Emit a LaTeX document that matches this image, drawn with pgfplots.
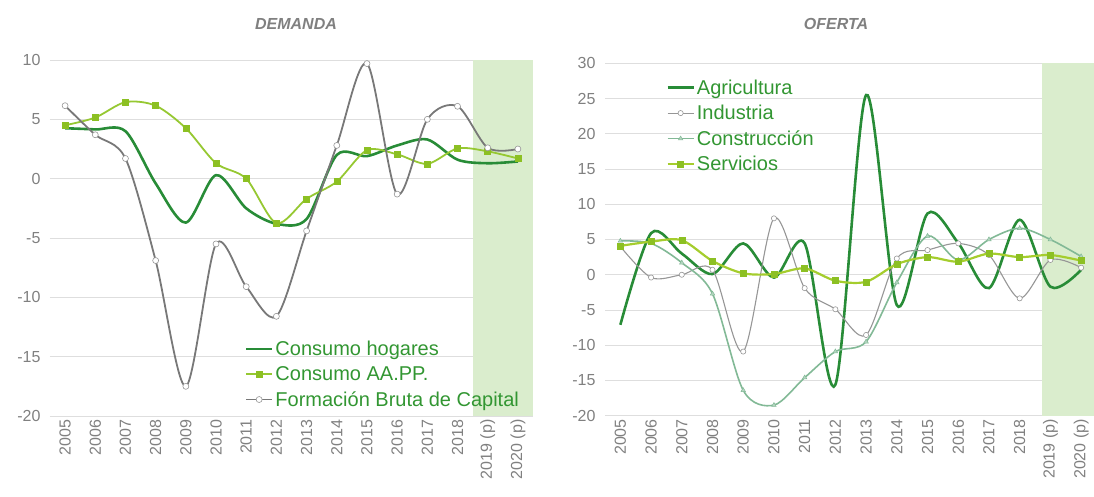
\documentclass[border=0pt]{standalone}
\usepackage{pgfplots}
\pgfplotsset{compat=1.18}
\usepackage{pgfplotstable}
\usepackage{fontspec}
\setmainfont{Liberation Sans}
\definecolor{dkgreen}{RGB}{40,140,55}
\definecolor{ltgreen}{RGB}{150,200,50}
\definecolor{ltgreenmk}{RGB}{140,192,35}
\definecolor{servline}{RGB}{165,205,45}
\definecolor{fbcgray}{RGB}{120,120,120}
\definecolor{indgray}{RGB}{150,150,150}
\definecolor{constr}{RGB}{130,185,150}
\definecolor{shade}{RGB}{218,237,205}
\definecolor{legtext}{RGB}{50,150,50}
\definecolor{gridc}{RGB}{222,222,222}
\definecolor{tickc}{RGB}{128,128,128}

\pgfplotstableread{
x hog aapp fbc
0 4.25 4.5 6.15
1 4.15 5.15 3.7
2 4.0 6.45 1.7
3 -0.4 6.15 -6.9
4 -3.7 4.25 -17.5
5 0.3 1.3 -5.5
6 -2.5 0.0 -9.1
7 -3.8 -3.75 -11.6
8 -3.4 -1.7 -4.4
9 2.0 -0.25 2.8
10 1.9 2.4 9.7
11 2.8 2.05 -1.3
12 3.3 1.25 5.0
13 1.6 2.55 6.1
14 1.3 2.3 2.6
15 1.45 1.7 2.5
}\demanda

\pgfplotstableread{
x agr ind con ser
0 -7.1 4.0 4.8 4.1
1 5.9 -0.4 4.45 4.7
2 3.0 0.0 1.7 4.9
3 0.1 0.7 -2.7 1.95
4 4.45 -10.9 -16.4 0.2
5 -0.4 8.0 -18.5 0.1
6 4.45 -1.9 -14.6 0.9
7 -15.6 -4.9 -10.9 -0.85
8 25.5 -8.55 -9.5 -1.0
9 -4.3 2.3 -1.1 1.5
10 8.7 3.5 5.5 2.5
11 4.5 4.45 2.1 1.85
12 -1.9 2.8 5.0 3.0
13 7.8 -3.35 6.6 2.5
14 -1.7 2.1 5.0 2.8
15 0.7 1.0 2.6 2.0
}\oferta

\pgfplotsset{
  mybase/.style={
    scale only axis,
    axis line style={draw=none},
    tick style={draw=none},
    ymajorgrids,
    grid style={gridc, line width=0.8pt},
    xtick={0,...,15},
    xticklabels={2005,2006,2007,2008,2009,2010,2011,2012,2013,2014,2015,2016,2017,2018,2019 (p),2020 (p)},
    xticklabel style={rotate=90, anchor=east, font=\fontsize{16}{18}\selectfont, text=tickc},
    yticklabel style={font=\fontsize{16}{18}\selectfont, text=tickc},
    /pgf/number format/assume math mode=true,
    legend cell align=left,
    legend image code/.code={\draw[mark repeat=2,mark phase=2,#1] plot coordinates {(0pt,0pt) (13pt,0pt) (26pt,0pt)};},
    legend style={draw=none, fill=none, font=\fontsize{20}{22}\selectfont, text=legtext, inner sep=0pt, row sep=5.5pt},
  }
}

\begin{document}
\begin{tikzpicture}[x=1pt,y=1pt]
\useasboundingbox (0,0) rectangle (1094,496);

\node[font=\fontsize{16}{18}\selectfont\bfseries\itshape, text=tickc] at (296,472) {DEMANDA};
\node[font=\fontsize{16}{18}\selectfont\bfseries\itshape, text=tickc] at (836,472) {OFERTA};

\begin{axis}[mybase,
  at={(50pt,80pt)}, anchor=south west,
  width=483pt, height=356pt,
  xmin=-0.5, xmax=15.5, ymin=-20, ymax=10,
  ytick={-20,-15,...,10},
  yticklabel style={xshift=-6pt},
  legend style={at={(0.403,0.217)}, anchor=north west},
]
\addplot[fill=shade, draw=none, forget plot] coordinates {(13.5,-20) (15.5,-20) (15.5,10) (13.5,10)} -- cycle;
\addplot[dkgreen, line width=2.6pt, smooth, no markers] table[x=x,y=hog] {\demanda};
\addlegendentry{Consumo hogares}
\addplot[ltgreen, line width=1.8pt, smooth, mark=square*, mark size=3pt, mark options={fill=ltgreenmk, draw=ltgreenmk, line width=0.5pt}] table[x=x,y=aapp] {\demanda};
\addlegendentry{Consumo AA.PP.}
\addplot[fbcgray, line width=1.8pt, smooth, mark=*, mark size=3pt, mark options={fill=white, draw=indgray, line width=0.6pt}] table[x=x,y=fbc] {\demanda};
\addlegendentry{Formación Bruta de Capital}
\end{axis}

\begin{axis}[mybase,
  at={(605pt,80.3pt)}, anchor=south west,
  width=489pt, height=352.4pt,
  xmin=-0.5, xmax=15.42, ymin=-20, ymax=30,
  ytick={-20,-15,...,30},
  yticklabel style={xshift=-6pt},
  legend style={at={(0.125,0.96)}, anchor=north west},
]
\addplot[fill=shade, draw=none, forget plot] coordinates {(13.72,-20) (15.6,-20) (15.6,30) (13.72,30)} -- cycle;
\addplot[dkgreen, line width=2.6pt, smooth, no markers] table[x=x,y=agr] {\oferta};
\addlegendentry{Agricultura}
\addplot[indgray, line width=1.1pt, smooth, mark=*, mark size=2.6pt, mark options={fill=white, draw=indgray, line width=0.6pt}] table[x=x,y=ind] {\oferta};
\addlegendentry{Industria}
\addplot[constr, line width=1.6pt, smooth, mark=triangle*, mark size=2.6pt, mark options={fill=constr!60!white, draw=constr, line width=0.5pt}] table[x=x,y=con] {\oferta};
\addlegendentry{Construcción}
\addplot[servline, line width=2.2pt, smooth, mark=square*, mark size=3pt, mark options={fill=ltgreenmk, draw=ltgreenmk, line width=0.5pt}] table[x=x,y=ser] {\oferta};
\addlegendentry{Servicios}
\end{axis}
\end{tikzpicture}
\end{document}
